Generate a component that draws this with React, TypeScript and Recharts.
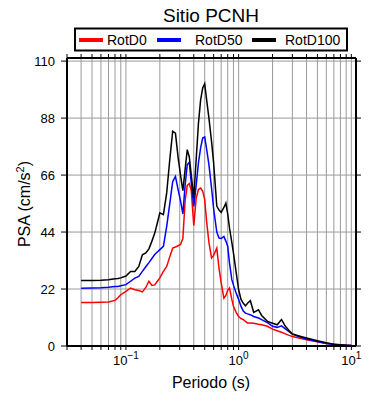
import { CartesianGrid, Line, LineChart, XAxis, YAxis } from "recharts";

const periods = [
  0.04, 0.05, 0.06, 0.07, 0.08, 0.085, 0.09,
  0.1, 0.11, 0.12, 0.13, 0.14, 0.15, 0.16, 0.17, 0.18, 0.19, 0.2,
  0.215, 0.23, 0.245, 0.26, 0.275, 0.29, 0.305, 0.32, 0.335, 0.35, 0.365, 0.38,
  0.4, 0.42, 0.44, 0.46, 0.48, 0.5,
  0.52, 0.545, 0.575, 0.6, 0.64, 0.67, 0.7, 0.74, 0.77, 0.8, 0.83, 0.87, 0.9, 0.95,
  1.0, 1.05, 1.1, 1.15, 1.2, 1.27, 1.36, 1.5, 1.6, 1.8,
  2.0, 2.2, 2.4, 2.6, 2.8, 3.0, 3.5, 4.0,
  5.0, 6.0, 7.0, 8.0, 9.0, 10.0,
];

const rotD0 = [
  16.8, 16.8, 16.9, 17.0, 17.6, 18.6, 19.8,
  21.1, 22.4, 21.7, 21.4, 20.9, 22.6, 25.0, 23.4, 23.6, 25.0, 26.3,
  28.8, 30.7, 34.5, 37.8, 38.2, 38.7, 39.2, 41.5, 56.0, 62.0, 62.7, 60.0,
  46.5, 57.0, 60.4, 61.0, 59.7, 56.5,
  48.0, 40.0, 34.0, 35.0, 37.8, 30.0, 24.5, 18.5, 19.5, 21.5, 22.4, 18.0, 15.3, 13.0,
  11.4, 10.6, 10.2, 9.5, 8.9, 8.9, 8.8, 8.4, 8.2, 7.6,
  6.5, 5.9, 5.3, 4.7, 4.1, 3.7, 3.0, 2.4,
  1.6, 1.0, 0.6, 0.4, 0.3, 0.2,
];

const rotD50 = [
  22.3, 22.4, 22.5, 22.7, 23.0, 23.0, 23.3,
  23.7, 25.0, 26.2, 26.9, 28.8, 30.6, 32.2, 33.8, 35.3, 36.3, 37.2,
  38.5, 46.2, 55.0, 63.5, 65.5, 60.5, 56.0, 51.0, 62.0, 70.0, 71.0, 63.0,
  53.9, 62.0, 70.7, 76.5, 80.3, 80.7,
  76.0, 70.0, 61.0, 53.0, 44.0, 41.7, 41.5, 42.3, 40.5, 38.5, 32.0, 25.6, 23.5, 20.5,
  18.0, 15.3, 13.5, 12.7, 12.4, 12.1, 11.4, 10.8, 10.2, 9.0,
  7.6, 7.2, 7.8, 6.6, 5.5, 4.6, 3.5, 2.7,
  1.7, 1.0, 0.7, 0.4, 0.3, 0.2,
];

const rotD100 = [
  25.3, 25.3, 25.4, 25.6, 26.0, 26.1, 26.3,
  27.0, 28.8, 28.8, 30.7, 35.2, 35.9, 37.5, 40.5, 43.5, 47.5, 51.4,
  50.7, 59.1, 72.0, 82.9, 82.2, 73.0, 66.0, 60.0, 68.0, 75.8, 73.0, 66.0,
  57.1, 72.0, 86.0, 95.0, 99.6, 101.3,
  95.0, 88.0, 79.0, 70.7, 54.0, 52.5, 51.6, 53.5, 55.2, 51.0, 45.5, 40.0, 35.9, 28.5,
  21.7, 18.0, 16.5, 15.5, 16.5, 17.5, 13.0, 14.0, 11.8, 9.5,
  8.8, 8.2, 10.2, 7.6, 6.0, 4.6, 3.8, 3.1,
  2.0, 1.3, 0.7, 0.5, 0.3, 0.2,
];

const xGridTicks = [
  0.03, 0.04, 0.05, 0.06, 0.07, 0.08, 0.09,
  0.1, 0.2, 0.3, 0.4, 0.5, 0.6, 0.7, 0.8, 0.9,
  1, 2, 3, 4, 5, 6, 7, 8, 9, 10,
];
const yTicks = [0, 22, 44, 66, 88, 110];

const series = [
  { key: "rotD0", name: "RotD0", color: "#ff0000" },
  { key: "rotD50", name: "RotD50", color: "#0000ff" },
  { key: "rotD100", name: "RotD100", color: "#000000" },
];

const data = periods.map((t, i) => ({
  t,
  rotD0: rotD0[i],
  rotD50: rotD50[i],
  rotD100: rotD100[i],
}));

const FONT = "'Liberation Sans', Arial, Helvetica, sans-serif";

function DecadeTick({ x, y, payload }: any) {
  const lg = Math.log10(payload.value);
  const exp = Math.round(lg);
  if (Math.abs(lg - exp) > 1e-6) return null;
  const sup = exp < 0 ? `\u2212${-exp}` : `${exp}`;
  return (
    <text x={x} y={y + 9} textAnchor="middle" fontSize={13} fill="#000" fontFamily={FONT}>
      <tspan>10</tspan>
      <tspan dy={-6} fontSize={10}>{sup}</tspan>
    </text>
  );
}

// legend item x positions (line start, text start)
const legendPos = [
  { line: 79, text: 107 },
  { line: 157, text: 195 },
  { line: 252, text: 285 },
];

export default function App() {
  return (
    <div style={{ position: "absolute", left: 0, top: 0, width: 390, height: 400, background: "#fff" }}>
      <LineChart
        width={390}
        height={400}
        data={data}
        margin={{ top: 57, right: 0, bottom: 0, left: 0 }}
      >
        <CartesianGrid stroke="#9a9a9a" strokeWidth={1} verticalPoints={undefined} />
        <XAxis
          dataKey="t"
          type="number"
          scale="log"
          domain={[0.03, 11]}
          allowDataOverflow
          ticks={xGridTicks}
          tick={<DecadeTick />}
          tickSize={4}
          tickMargin={6}
          height={54}
          interval={0}
          stroke="#000"
          axisLine={{ stroke: "#000", strokeWidth: 2 }}
          tickLine={{ stroke: "#000" }}
        />
        <XAxis
          xAxisId="top"
          orientation="top"
          dataKey="t"
          type="number"
          scale="log"
          domain={[0.03, 11]}
          allowDataOverflow
          ticks={xGridTicks}
          tickFormatter={() => ""}
          tickSize={4}
          height={1}
          interval={0}
          axisLine={{ stroke: "#000", strokeWidth: 2 }}
          tickLine={{ stroke: "#000" }}
        />
        <YAxis
          type="number"
          domain={[0, 111.2]}
          allowDataOverflow
          ticks={yTicks}
          interval={0}
          width={67}
          tickSize={6}
          tickMargin={6}
          tick={{ fill: "#000", fontSize: 13, fontFamily: FONT }}
          axisLine={{ stroke: "#000", strokeWidth: 2 }}
          tickLine={{ stroke: "#000" }}
        />
        <YAxis
          yAxisId="right"
          orientation="right"
          type="number"
          domain={[0, 111.2]}
          allowDataOverflow
          ticks={yTicks}
          interval={0}
          width={34}
          tickSize={5}
          tickFormatter={() => ""}
          axisLine={{ stroke: "#000", strokeWidth: 2 }}
          tickLine={{ stroke: "#000" }}
        />
        {series.map((s) => (
          <Line
            key={s.key}
            type="linear"
            dataKey={s.key}
            stroke={s.color}
            strokeWidth={1.5}
            dot={false}
            isAnimationActive={false}
          />
        ))}
      </LineChart>
      <svg
        width={390}
        height={400}
        style={{ position: "absolute", left: 0, top: 0, pointerEvents: "none" }}
        fontFamily={FONT}
      >
        <text x={211} y={22} textAnchor="middle" fontSize={19} fill="#000">
          Sitio PCNH
        </text>
        <rect x={75} y={28.5} width={272} height={22} fill="#fff" stroke="#000" strokeWidth={2} />
        {series.map((s, i) => (
          <g key={s.key}>
            <line
              x1={legendPos[i].line}
              x2={legendPos[i].line + 24}
              y1={40}
              y2={40}
              stroke={s.color}
              strokeWidth={4}
            />
            <text x={legendPos[i].text} y={45} fontSize={14} fill="#000">
              {s.name}
            </text>
          </g>
        ))}
        <text x={211} y={388} textAnchor="middle" fontSize={16} fill="#000">
          Periodo (s)
        </text>
        <text
          transform="translate(30,204) rotate(-90)"
          textAnchor="middle"
          fontSize={16}
          fill="#000"
        >
          PSA (cm/s<tspan dy={-6} fontSize={11}>2</tspan>
          <tspan dy={6}>)</tspan>
        </text>
      </svg>
    </div>
  );
}
